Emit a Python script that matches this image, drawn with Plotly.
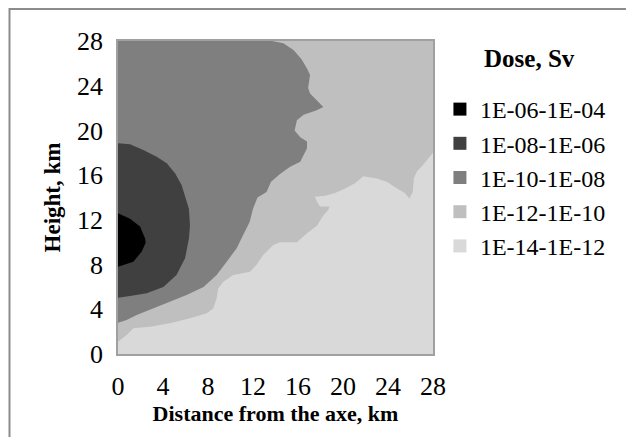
import plotly.graph_objects as go

# ---- data (km) ----
AXIS_MAX = 28
TICKS = [0, 4, 8, 12, 16, 20, 24, 28]

LEGEND_TITLE = "Dose, Sv"
LEVELS = ["1E-06-1E-04", "1E-08-1E-06", "1E-10-1E-08", "1E-12-1E-10", "1E-14-1E-12"]
COLORS = ["#000000", "#404040", "#7f7f7f", "#bfbfbf", "#d9d9d9"]

# boundary of 1E-06 zone (black)
b1_x = [0, 1.07, 1.96, 2.4, 2.46, 2.1, 1.36, 0.18, 0]
b1_y = [12.6, 12.1, 11.4, 10.35, 9.96, 9.15, 8.26, 7.8, 7.8]

# boundary of 1E-08 zone
b2_x = [0, 1.07, 2.25, 3.44, 4.33, 5.07, 5.66, 6.0, 6.3, 6.4, 6.3, 5.96, 5.2, 4.03, 2.55, 1.07, 0]
b2_y = [18.85, 18.76, 18.25, 17.65, 17.06, 16.16, 15.1, 14.0, 13.0, 11.5, 10.3, 8.56, 7.07, 6.0, 5.43, 5.19, 5.04]

# boundary of 1E-10 zone
b3_x = [0, 0.77, 1.66, 3.1, 4.6, 6.1, 7.6, 8.77, 9.66, 10.55, 11.1, 11.7, 12.0, 12.4, 13.2, 13.6,
        14.4, 15.3, 16.2, 16.5, 16.8, 16.8, 16.2, 15.7, 15.9, 16.5, 17.66, 18.25, 17.66, 17.07,
        16.9, 17.07, 16.8, 16.3, 15.6, 14.7, 13.7]
b3_y = [2.8, 3.04, 3.5, 4.1, 4.7, 5.28, 6.0, 7.07, 8.26, 9.45, 10.6, 11.8, 13.0, 14.0, 14.5, 15.4,
        16.1, 16.75, 17.2, 17.8, 18.4, 19.0, 19.4, 20.0, 20.9, 21.4, 21.8, 22.1, 22.7, 23.3,
        23.8, 24.96, 25.55, 26.4, 27.2, 27.8, 28.0]

# boundary of 1E-12 zone (above it), 1E-14 zone below
b4_x = [0, 0.77, 1.36, 2.84, 4.6, 6.4, 7.9, 8.47, 8.77, 8.9, 9.36, 10.25, 11.73, 12.3, 12.9, 13.8,
        14.4, 15.9, 16.8, 17.7, 18.0, 18.25, 18.7, 18.8, 17.96, 17.7, 17.5, 18.4, 19.3, 20.2, 21.1,
        21.8, 23.0, 23.9, 24.8, 25.5, 25.9, 26.2, 26.3, 26.55, 27.1, 27.7, 28]
b4_y = [1.1, 1.7, 2.3, 2.44, 2.74, 3.19, 3.64, 4.09, 4.98, 5.87, 6.47, 7.07, 7.36, 7.96, 8.85, 9.75,
        10.0, 10.0, 10.8, 11.5, 12.0, 12.4, 12.9, 13.2, 13.2, 13.6, 14.07, 14.15, 14.4, 14.8, 15.3,
        15.9, 15.7, 15.4, 14.8, 14.4, 13.9, 14.5, 15.7, 16.3, 16.9, 17.65, 18.0]

FONT = "Liberation Serif"
# the page body adds an 8 px margin, so the figure is drawn 8 px smaller
OFF = 8

fig = go.Figure()

polys = [
    ([0, AXIS_MAX, AXIS_MAX, 0], [0, 0, AXIS_MAX, AXIS_MAX], COLORS[4]),
    (b4_x + [AXIS_MAX, 0], b4_y + [AXIS_MAX, AXIS_MAX], COLORS[3]),
    (b3_x + [0], b3_y + [AXIS_MAX], COLORS[2]),
    (b2_x, b2_y, COLORS[1]),
    (b1_x, b1_y, COLORS[0]),
]
for px, py, col in polys:
    fig.add_trace(go.Scatter(x=px, y=py, mode="lines", fill="toself", fillcolor=col,
                             line=dict(width=0, color=col), showlegend=False, hoverinfo="skip"))

for name, col in zip(LEVELS, COLORS):
    fig.add_trace(go.Scatter(x=[None], y=[None], mode="markers", name=name,
                             marker=dict(symbol="square", size=13, color=col)))

axis_common = dict(range=[0, AXIS_MAX], tickvals=TICKS, showgrid=False, zeroline=False,
                   showline=True, linecolor="#a0a0a0", linewidth=1.5, mirror=True,
                   ticks="outside", ticklen=8, tickcolor="rgba(0,0,0,0)", automargin=False,
                   tickfont=dict(family=FONT, size=26, color="black"))

fig.update_layout(
    width=634 - OFF, height=437 - OFF,
    margin=dict(l=118 - OFF, r=201, t=41 - OFF, b=83),
    paper_bgcolor="white", plot_bgcolor="white",
    xaxis=dict(**axis_common,
               title=dict(text="Distance from the axe, km", standoff=2,
                          font=dict(family=FONT, size=22, color="black", weight="bold"))),
    yaxis=dict(**axis_common,
               title=dict(text="Height, km", standoff=10,
                          font=dict(family=FONT, size=23, color="black", weight="bold"))),
    legend=dict(x=1.022, y=0.853, xanchor="left", yanchor="top",
                font=dict(family=FONT, size=24, color="black"),
                bgcolor="rgba(0,0,0,0)", itemwidth=30, tracegroupgap=0),
    annotations=[dict(text=LEGEND_TITLE, xref="paper", yref="paper",
                      x=(529 - 118) / 315, y=(354 - 58) / 313, xanchor="center", yanchor="middle",
                      showarrow=False,
                      font=dict(family=FONT, size=25, color="black", weight="bold"))],
    shapes=[dict(type="rect", xref="paper", yref="paper",
                 x0=(1.5 - (118 - OFF)) / 315, x1=2.0, y0=-1.0, y1=(354 - 9) / 313,
                 line=dict(color="#8c8c8c", width=2), fillcolor="rgba(0,0,0,0)", layer="below")],
)

fig.write_html("out.html")
